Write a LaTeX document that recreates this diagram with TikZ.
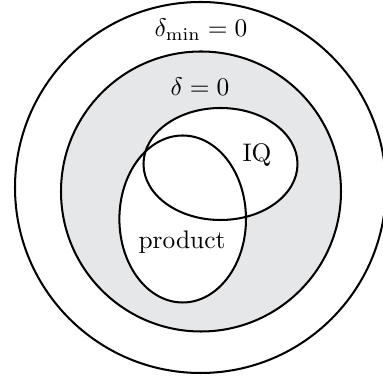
\documentclass[tikz,border=0pt]{standalone}
\definecolor{shade}{RGB}{230,231,233}
\begin{document}
\begin{tikzpicture}[x=0.394pt,y=-0.394pt,
  ring/.style={draw=black,line width=0.8pt},
  lbl/.style={inner sep=0pt}]
\useasboundingbox (0,0) rectangle (383,381);
\begin{scope}
\clip (0,0) rectangle (383,381);
\draw[ring] (200.5,187.5) circle[radius=185.5];
\end{scope}
\draw[ring,fill=shade] (201,191.5) circle[radius=140];
\fill[white] (220.5,164) ellipse[x radius=77,y radius=56];
\fill[white] (182.7,219) ellipse[x radius=63.3,y radius=83.5];
\draw[ring] (220.5,164) ellipse[x radius=77,y radius=56];
\draw[ring] (182.7,219) ellipse[x radius=63.3,y radius=83.5];
\node[lbl] (dmin) at (201,30) {$\delta_{\min}=0$};
\node[lbl] (d) at (200,87) {$\delta=0$};
\node[lbl] (iq) at (257,155) {IQ};
\node[lbl] (prod) at (182,242) {product};
\end{tikzpicture}
\end{document}
